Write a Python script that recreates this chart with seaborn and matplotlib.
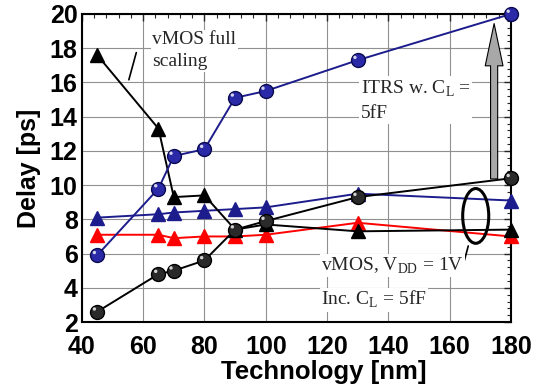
import matplotlib
matplotlib.use("Agg")
import matplotlib.pyplot as plt
from matplotlib.patches import Ellipse
from matplotlib.ticker import MultipleLocator, AutoMinorLocator
from matplotlib.transforms import offset_copy
import pandas as pd
import seaborn as sns

sns.set_style("white")
plt.rcParams['font.family'] = ['Liberation Sans', 'DejaVu Sans']
plt.rcParams['mathtext.fontset'] = 'custom'
plt.rcParams['mathtext.rm'] = 'Liberation Serif'

# data
tech = [45, 65, 70, 80, 90, 100, 130, 180]
itrs_cl = [5.9, 9.8, 11.7, 12.1, 15.1, 15.5, 17.3, 20.0]
inc_cl = [2.6, 4.8, 5.0, 5.6, 7.4, 7.9, 9.3, 10.4]
vmos_vdd_blue = [8.1, 8.3, 8.4, 8.5, 8.6, 8.7, 9.5, 9.1]
vmos_vdd_red = [7.1, 7.1, 6.9, 7.0, 7.0, 7.1, 7.8, 7.0]
vmos_full = [17.6, 13.3, 9.3, 9.4, 7.4, 7.7, 7.3, 7.4]

df = pd.DataFrame({'tech': tech, 'itrs': itrs_cl, 'inc': inc_cl,
                   'blue': vmos_vdd_blue, 'red': vmos_vdd_red, 'full': vmos_full})

fig, ax = plt.subplots(figsize=(5.53, 3.88), dpi=100)
fig.subplots_adjust(left=0.148, right=0.924, bottom=0.170, top=0.964)

navy = '#1c1c8c'

def line(col, color, marker, mfc, mec, z):
    sns.lineplot(data=df, x='tech', y=col, color=color, marker=marker,
                 markersize=10, markerfacecolor=mfc, markeredgecolor=mec,
                 markeredgewidth=1.0, linewidth=1.4, ax=ax, zorder=z,
                 clip_on=False)

def shine(col, z):
    # small highlight to mimic the shaded spheres
    tr = offset_copy(ax.transData, fig=fig, x=-2, y=2, units='points')
    sns.scatterplot(data=df, x='tech', y=col, s=6, color='white',
                    edgecolor='none', alpha=0.8, ax=ax, zorder=z,
                    transform=tr, clip_on=False, legend=False)

line('red', '#ff0000', '^', '#ff0000', '#ff0000', 3)
line('blue', navy, '^', navy, navy, 3)
line('full', 'black', '^', 'black', 'black', 4)
line('inc', 'black', 'o', '#2a2a2a', 'black', 5)
line('itrs', navy, 'o', '#2a2aa8', '#0a0a50', 5)
shine('inc', 5.5)
shine('itrs', 5.5)

ax.set_xlim(40, 180)
ax.set_ylim(2, 20)
ax.xaxis.set_major_locator(MultipleLocator(20))
ax.yaxis.set_major_locator(MultipleLocator(2))
ax.xaxis.set_minor_locator(AutoMinorLocator(5))
ax.yaxis.set_minor_locator(AutoMinorLocator(5))
ax.tick_params(which='both', direction='in', top=True, right=True)
ax.tick_params(which='major', length=5, width=1, labelsize=18, labelcolor='black')
ax.tick_params(axis='x', which='major', pad=9)
ax.tick_params(axis='y', which='major', pad=3)
ax.tick_params(which='minor', length=3, width=0.8)
for lab in ax.get_xticklabels() + ax.get_yticklabels():
    lab.set_fontweight('bold')
ax.grid(True, which='major', color='#909090', linewidth=0.8, linestyle='-')
for s in ax.spines.values():
    s.set_color('black')
    s.set_linewidth(1.5)

ax.set_xlabel('Technology [nm]', fontsize=18.5, fontweight='bold', labelpad=1,
              color='black')
ax.xaxis.label.set_x(0.565)
ax.set_ylabel('Delay [ps]', fontsize=18, fontweight='bold', labelpad=6,
              color='black')

serif = dict(family='Liberation Serif', fontsize=14, zorder=6,
             bbox=dict(facecolor='white', edgecolor='none', pad=1))

ax.text(63, 19.0, 'vMOS full\nscaling', va='top', ha='left', linespacing=1.4, **serif)
ax.annotate('', xy=(55.1, 16.0), xytext=(58.0, 17.9),
            arrowprops=dict(arrowstyle='-', lw=1.2, color='black'), zorder=6)

ax.text(131, 16.2, 'ITRS w. C$_\\mathregular{L}$ =\n5fF', va='top', ha='left',
        linespacing=1.45, **serif)
ax.annotate('', xy=(174.5, 19.6), xytext=(174.5, 10.2),
            arrowprops=dict(arrowstyle='simple,head_length=1.9,head_width=0.8,tail_width=0.32',
                            mutation_scale=16, fc='#a8a8a8', ec='black', lw=0.8),
            zorder=4)

ax.add_patch(Ellipse((168.5, 8.2), 8.5, 3.2, fill=False, ec='black', lw=2.2, zorder=7))
ax.annotate('', xy=(166.3, 6.6), xytext=(164.5, 5.4),
            arrowprops=dict(arrowstyle='-', lw=1.2, color='black'), zorder=6)
ax.text(118, 5.3, 'vMOS, V$_\\mathregular{DD}$ = 1V', va='center', ha='left', **serif)
ax.text(118, 3.3, 'Inc. C$_\\mathregular{L}$ = 5fF', va='center', ha='left', **serif)

plt.savefig('out.png', dpi=100)
